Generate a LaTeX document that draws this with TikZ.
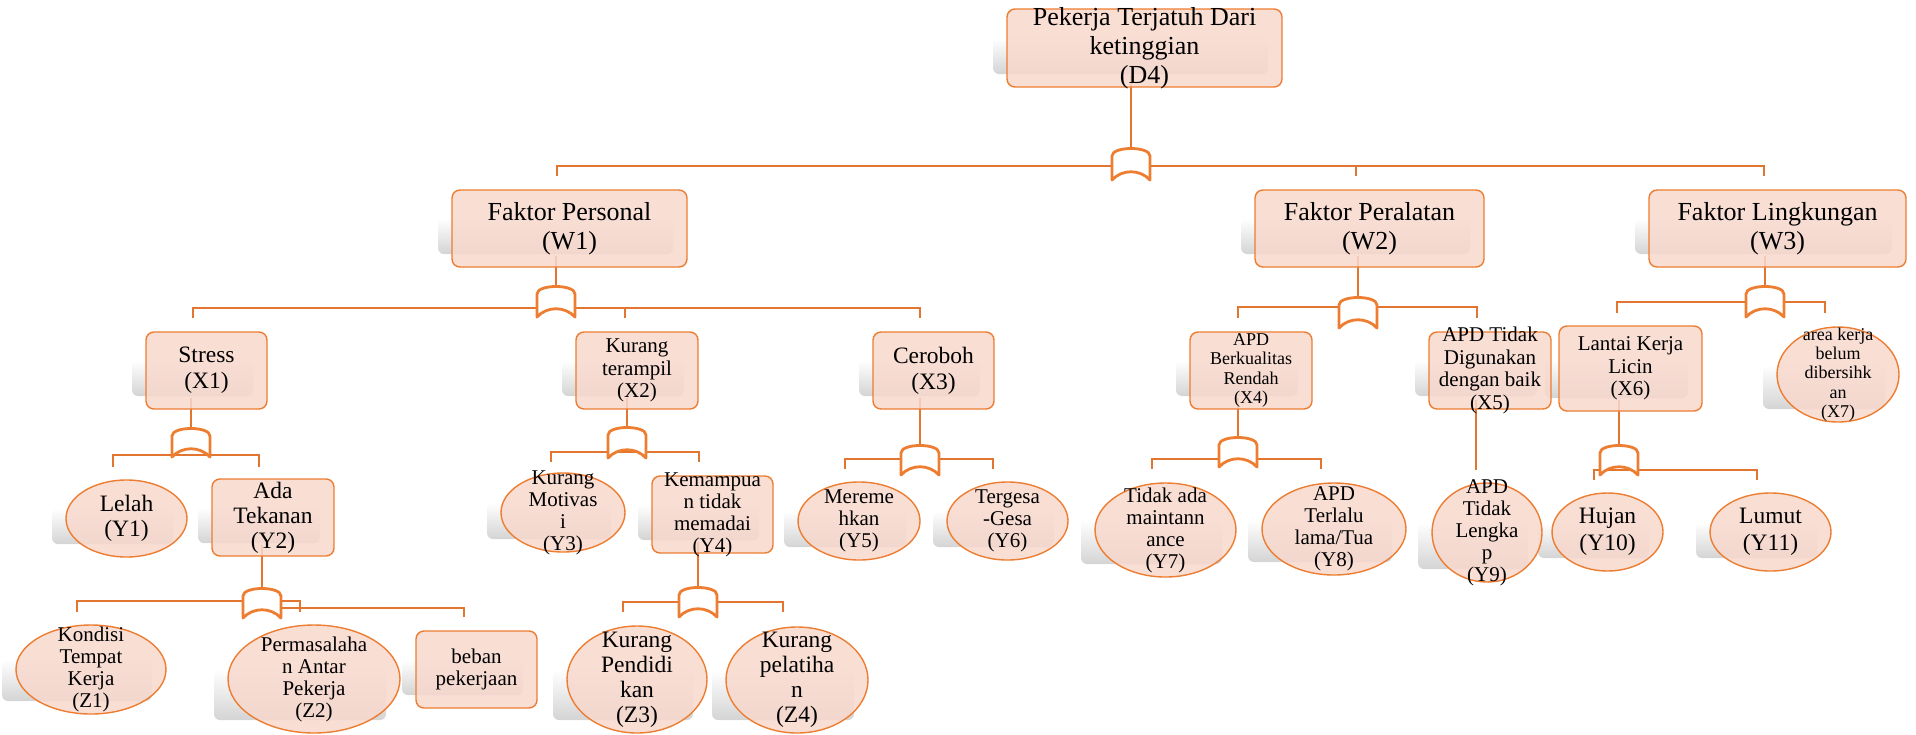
\documentclass[tikz,border=0pt]{standalone}
\usepackage{fontspec}
\setmainfont{Liberation Serif}
\usetikzlibrary{shapes.geometric,calc}

\definecolor{edge}{RGB}{237,125,49}
\definecolor{wirec}{RGB}{226,118,48}
\definecolor{peach}{RGB}{248,216,205}
\definecolor{shadowgray}{RGB}{212,212,212}

\pgfdeclarelayer{shadow}
\pgfdeclarelayer{wires}
\pgfsetlayers{shadow,wires,main}

\tikzset{
  nodebox/.style={draw=edge, line width=1.4pt, fill=peach, fill opacity=0.85,
    rounded corners=8pt, inner sep=0pt, shape=rectangle},
  nodeell/.style={draw=edge, line width=1.4pt, fill=peach, fill opacity=0.85,
    inner sep=0pt, shape=ellipse},
  nodetext/.style={align=center, inner sep=0pt, text=black},
  wire/.style={draw=wirec, line width=1.3pt},
  gate/.style={draw=edge, fill=white, line width=2.8pt, line join=round},
}

% font sizes (size / baseline skip)
\newcommand\szA{\fontsize{26}{29}\selectfont}
\newcommand\szB{\fontsize{23.5}{26}\selectfont}
\newcommand\szC{\fontsize{21}{22.5}\selectfont}
\newcommand\szD{\fontsize{18}{19.3}\selectfont}
\newcommand\szE{\fontsize{23.5}{25}\selectfont}
\newcommand\szF{\fontsize{21}{22}\selectfont}
\newcommand\szG{\fontsize{23.5}{27}\selectfont}

% soft grey shadow, offset to the left, fading upwards
\newcommand\mkshadow[4]{%
  \pgfmathsetmacro\shy{(#2+#4)/2-10}%
  \begin{pgfonlayer}{shadow}
    \shade[top color=white, bottom color=shadowgray, rounded corners=6pt]
      (#1-14,\shy) rectangle (#3-14,#4-13);
  \end{pgfonlayer}}

% rounded box: name, left, top, right, bottom, font, text
\newcommand\mkbox[7]{%
  \mkshadow{#2}{#3}{#4}{#5}%
  \pgfmathsetmacro\cx{(#2+#4)/2}\pgfmathsetmacro\cy{(#3+#5)/2}%
  \pgfmathsetmacro\ww{#4-#2}\pgfmathsetmacro\hh{#5-#3}%
  \node[nodebox, minimum width=\ww pt, minimum height=\hh pt] (#1) at (\cx,\cy) {};
  \node[nodetext, font=#6] (#1t) at (#1.center) {#7};}

% ellipse: name, left, top, right, bottom, font, text
\newcommand\mkell[7]{%
  \mkshadow{#2}{#3}{#4}{#5}%
  \pgfmathsetmacro\cx{(#2+#4)/2}\pgfmathsetmacro\cy{(#3+#5)/2}%
  \pgfmathsetmacro\ww{#4-#2}\pgfmathsetmacro\hh{#5-#3}%
  \node[nodeell, minimum width=\ww pt, minimum height=\hh pt] (#1) at (\cx,\cy) {};
  \node[nodetext, font=#6] (#1t) at (#1.center) {#7};}

% AND gate: name, centre x, top y, bottom y
\newcommand\mkgate[4]{%
  \coordinate (#1) at (#2,#3);
  \draw[gate] (#2-19,#4) -- (#2-19,#3+8)
    .. controls (#2-19,#3-2) and (#2+19,#3-2) .. (#2+19,#3+8)
    -- (#2+19,#4) .. controls (#2+9,#4-11) and (#2-9,#4-11) .. (#2-19,#4) -- cycle;}

\begin{document}
\begin{tikzpicture}[x=1pt,y=-1pt]
\useasboundingbox (0,0) rectangle (1916,734);

% ---- top event and main factors
\mkbox{D4}{1007}{9}{1282}{87}{\szA}{Pekerja Terjatuh Dari\\ketinggian\\(D4)}
\mkbox{W1}{452}{190}{687}{267}{\szA}{Faktor Personal\\(W1)}
\mkbox{W2}{1255}{190}{1484}{267}{\szA}{Faktor Peralatan\\(W2)}
\mkbox{W3}{1649}{190}{1906}{267}{\szA}{Faktor Lingkungan\\(W3)}

% ---- second level
\mkbox{X1}{146}{332}{267}{409}{\szB}{Stress\\(X1)}
\mkbox{X2}{576}{332}{698}{409}{\szC}{Kurang\\terampil\\(X2)}
\mkbox{X3}{873}{332}{994}{409}{\szB}{Ceroboh\\(X3)}
\mkbox{X4}{1190}{332}{1312}{409}{\szD}{APD\\Berkualitas\\Rendah\\(X4)}
\mkbox{X5}{1429}{332}{1551}{409}{\szC}{APD Tidak\\Digunakan\\dengan baik\\(X5)}
\mkbox{X6}{1559}{326}{1702}{411}{\szC}{Lantai Kerja\\Licin\\(X6)}
\mkell{X7}{1777}{327}{1899}{422}{\szD}{area kerja\\belum\\dibersihk\\an\\(X7)}

% ---- third level
\mkell{Y1}{66}{480}{187}{557}{\szE}{Lelah\\(Y1)}
\mkbox{Y2}{212}{479}{334}{556}{\szE}{Ada\\Tekanan\\(Y2)}
\mkell{Y3}{501}{473}{625}{552}{\szF}{Kurang\\Motivas\\i\\(Y3)}
\mkbox{Y4}{652}{476}{773}{553}{\szF}{Kemampua\\n tidak\\memadai\\(Y4)}
\mkell{Y5}{798}{482}{920}{560}{\szF}{Mereme\\hkan\\(Y5)}
\mkell{Y6}{947}{482}{1068}{560}{\szF}{Tergesa\\-Gesa\\(Y6)}
\mkell{Y7}{1095}{483}{1236}{577}{\szF}{Tidak ada\\maintann\\ance\\(Y7)}
\mkell{Y8}{1262}{483}{1406}{575}{\szF}{APD\\Terlalu\\lama/Tua\\(Y8)}
\mkell{Y9}{1432}{483}{1542}{582}{\szF}{APD\\Tidak\\Lengka\\p\\(Y9)}
\mkell{Y10}{1552}{493}{1663}{571}{\szG}{Hujan\\(Y10)}
\mkell{Y11}{1710}{493}{1831}{571}{\szG}{Lumut\\(Y11)}

% ---- fourth level
\mkell{Z1}{16}{625}{166}{714}{\szF}{Kondisi\\Tempat\\Kerja\\(Z1)}
\mkell{Z2}{228}{625}{400}{733}{\szF}{Permasalaha\\n Antar\\Pekerja\\(Z2)}
\mkbox{Z5}{416}{631}{537}{708}{\szF}{beban\\pekerjaan}
\mkell{Z3}{567}{626}{707}{733}{\szE}{Kurang\\Pendidi\\kan\\(Z3)}
\mkell{Z4}{726}{627}{868}{733}{\szE}{Kurang\\pelatiha\\n\\(Z4)}

% ---- AND gates
\mkgate{g0}{1131}{148}{180}
\mkgate{g1}{556}{286}{317}
\mkgate{g2}{1358}{297}{328}
\mkgate{g3}{1765}{286}{317}
\mkgate{g4}{191}{428}{457}
\mkgate{g5}{627}{427}{458}
\mkgate{g6}{920}{445}{475}
\mkgate{g7}{1238}{437}{467}
\mkgate{g8}{1619}{445}{475}
\mkgate{g9}{262}{588}{618}
\mkgate{g10}{698}{587}{617}

% ---- free ends of the branch lines
\coordinate (W1in) at (557,176);  \coordinate (W2in) at (1356,176); \coordinate (W3in) at (1764,176);
\coordinate (X1in) at (193,318);  \coordinate (X2in) at (625,318);  \coordinate (X3in) at (920,318);
\coordinate (X4in) at (1238,318); \coordinate (X5in) at (1477,318);
\coordinate (X6in) at (1617,313); \coordinate (X7in) at (1825,313);
\coordinate (Y1in) at (113,467);  \coordinate (Y2in) at (259,467);
\coordinate (Y3in) at (551,462);  \coordinate (Y4in) at (699,462);
\coordinate (Y5in) at (845,469);  \coordinate (Y6in) at (993,469);
\coordinate (Y7in) at (1152,469); \coordinate (Y8in) at (1321,469);
\coordinate (Y9in) at (1476,470);
\coordinate (Y10in) at (1594,480); \coordinate (Y11in) at (1757,480);
\coordinate (Z1in) at (77,612);   \coordinate (Z2in) at (300,612);  \coordinate (Z5in) at (464,617);
\coordinate (Z3in) at (623,612);  \coordinate (Z4in) at (783,612);

\begin{pgfonlayer}{wires}
  % parent to gate
  \draw[wire] ($(D4.south -| g0)+(0,-12)$) -- (g0);
  \draw[wire] ($(W1.south -| g1)+(0,-12)$) -- (g1);
  \draw[wire] ($(W2.south -| g2)+(0,-12)$) -- (g2);
  \draw[wire] ($(W3.south -| g3)+(0,-12)$) -- (g3);
  \draw[wire] ($(X1.south -| g4)+(0,-12)$) -- (g4);
  \draw[wire] ($(X2.south -| g5)+(0,-12)$) -- (g5);
  \draw[wire] ($(X3.south -| g6)+(0,-12)$) -- (g6);
  \draw[wire] ($(X4.south -| g7)+(0,-12)$) -- (g7);
  \draw[wire] ($(X6.south -| g8)+(0,-12)$) -- (g8);
  \draw[wire] ($(Y2.south -| g9)+(0,-12)$) -- (g9);
  \draw[wire] ($(Y4.south -| g10)+(0,-12)$) -- (g10);
  \draw[wire] ($(X5.south -| Y9in)+(0,-10)$) -- (Y9in);
  % branch bars
  \draw[wire] (W1in) -- ++(0,-10) -| (W3in);
  \draw[wire] (W2in) -- ++(0,-10);
  \draw[wire] (X1in) -- ++(0,-10) -| (X3in);
  \draw[wire] (X2in) -- ++(0,-10);
  \draw[wire] (X4in) -- ++(0,-11) -| (X5in);
  \draw[wire] (X6in) -- ++(0,-11) -| (X7in);
  \draw[wire] (Y1in) -- ++(0,-12) -| (Y2in);
  \draw[wire] (Y3in) -- ++(0,-10) -| (Y4in);
  \draw[wire] (Y5in) -- ++(0,-10) -| (Y6in);
  \draw[wire] (Y7in) -- ++(0,-10) -| (Y8in);
  \draw[wire] (Y10in) -- ++(0,-10) -| (Y11in);
  \draw[wire] (Z1in) -- ++(0,-11) -| (Z2in);
  \draw[wire] (Z5in) |- ($(g9)+(0,20)$);
  \draw[wire] (Z3in) -- ++(0,-10) -| (Z4in);
\end{pgfonlayer}
\end{tikzpicture}
\end{document}
